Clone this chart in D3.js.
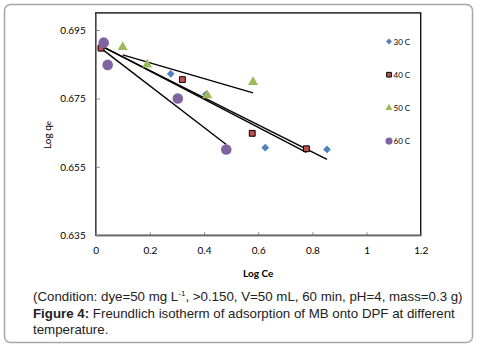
<!DOCTYPE html>
<html>
<head>
<meta charset="utf-8">
<script src="https://cdn.jsdelivr.net/npm/d3@7"></script>
<style>
  body { margin: 0; background: #fff; }
  svg { display: block; }
</style>
</head>
<body>
<div id="viz"></div>
<script>
// data (Log Ce, Log qe)
const seriesNames = ['30 C', '40 C', '50 C', '60 C'];
const logCe30 = [0.02, 0.277, 0.407, 0.626, 0.854];
const logQe30 = [0.6897, 0.6822, 0.6762, 0.6606, 0.6601];
const logCe40 = [0.0196, 0.32, 0.578, 0.778];
const logQe40 = [0.6897, 0.6805, 0.6648, 0.6603];
const logCe50 = [0.0997, 0.19, 0.412, 0.581];
const logQe50 = [0.690, 0.6849, 0.6759, 0.6798];
const logCe60 = [0.0295, 0.0443, 0.303, 0.482];
const logQe60 = [0.6913, 0.6848, 0.675, 0.6601];
const xTicks = [0, 0.2, 0.4, 0.6, 0.8, 1, 1.2];
const yTicks = [0.635, 0.655, 0.675, 0.695];

const width = 483;
const height = 349;
const plot = {left: 95.7, right: 420.7, top: 12.9, bottom: 235.3};

const colors = ['#4F81BD', '#C0504D', '#9BBB59', '#8064A2'];
const symbols = [d3.symbolDiamond2, d3.symbolSquare, d3.symbolTriangle, d3.symbolCircle];
const symSizes = [38, 34, 44, 88];

const allX = [logCe30, logCe40, logCe50, logCe60];
const allY = [logQe30, logQe40, logQe50, logQe60];
const series = seriesNames.map((name, i) => ({
  name: name,
  points: allX[i].map((v, j) => ({x: v, y: allY[i][j]}))
}));

const svg = d3.select('#viz')
  .append('svg')
    .attr('width', width)
    .attr('height', height);

// outer frame
svg.append('rect')
  .attr('x', 4.5)
  .attr('y', 4.5)
  .attr('width', 468)
  .attr('height', 338)
  .attr('rx', 6)
  .attr('fill', 'none')
  .attr('stroke', '#a6a6a6')
  .attr('stroke-width', 1.5);

const xScale = d3.scaleLinear()
  .domain([0, 1.2])
  .range([plot.left, plot.right]);

const yScale = d3.scaleLinear()
  .domain([0.635, 0.70])
  .range([plot.bottom, plot.top]);

// plot area border
svg.append('rect')
  .attr('x', plot.left)
  .attr('y', plot.top)
  .attr('width', plot.right - plot.left)
  .attr('height', plot.bottom - plot.top)
  .attr('fill', 'none')
  .attr('stroke', '#000')
  .attr('stroke-width', 1.3);

// axes
const xAxis = svg.append('g')
  .attr('transform', `translate(0, ${plot.bottom})`)
  .call(d3.axisBottom(xScale).tickValues(xTicks).tickSizeInner(-3).tickSizeOuter(0).tickPadding(12)
    .tickFormat(d3.format('~g')));
const yAxis = svg.append('g')
  .attr('transform', `translate(${plot.left}, 0)`)
  .call(d3.axisLeft(yScale).tickValues(yTicks).tickSizeInner(-4).tickSizeOuter(0).tickPadding(10)
    .tickFormat(d3.format('.3f')));

[xAxis, yAxis].forEach(ax => {
  ax.select('.domain').attr('stroke', '#868686').attr('stroke-width', 1.3);
  ax.selectAll('.tick line').attr('stroke', '#868686');
  ax.selectAll('.tick text')
    .attr('fill', '#000')
    .style('font-family', 'Lato, "Open Sans", sans-serif')
    .style('font-size', '10px');
});

svg.append('text')
  .attr('x', (plot.left + plot.right) / 2)
  .attr('y', 277)
  .attr('text-anchor', 'middle')
  .style('font-family', 'Lato, "Open Sans", sans-serif')
  .style('font-size', '10px')
  .style('font-weight', 'bold')
  .text('Log Ce');

const yLab = svg.append('text')
  .attr('transform', 'translate(51, 135) rotate(-90)')
  .attr('text-anchor', 'middle')
  .style('font-family', 'Lato, "Open Sans", sans-serif')
  .style('font-size', '10px');
yLab.append('tspan').text('Log q');
yLab.append('tspan').style('font-size', '8px').text('e');

// linear trend lines (least squares over each series)
const trend = pts => {
  const mx = d3.mean(pts, p => p.x);
  const my = d3.mean(pts, p => p.y);
  const sxy = d3.sum(pts, p => (p.x - mx) * (p.y - my));
  const sxx = d3.sum(pts, p => (p.x - mx) * (p.x - mx));
  const slope = sxy / sxx;
  const [x0, x1] = d3.extent(pts, p => p.x);
  return [{x: x0, y: my + slope * (x0 - mx)}, {x: x1, y: my + slope * (x1 - mx)}];
};

const line = d3.line()
  .x(d => xScale(d.x))
  .y(d => yScale(d.y));

svg.append('g')
  .selectAll('path')
  .data(series)
  .join('path')
    .attr('d', d => line(trend(d.points)))
    .attr('fill', 'none')
    .attr('stroke', '#000')
    .attr('stroke-width', 1.4);

// markers
series.forEach((s, i) => {
  svg.append('g')
    .selectAll('path')
    .data(s.points)
    .join('path')
      .attr('transform', d => `translate(${xScale(d.x)}, ${yScale(d.y)})`)
      .attr('d', d3.symbol(symbols[i], symSizes[i]))
      .attr('fill', colors[i])
      .attr('stroke', i === 1 ? '#000' : 'none')
      .attr('stroke-width', 1);
});

// legend
const legend = svg.append('g');
seriesNames.forEach((name, i) => {
  const ly = 41.5 + i * 33.2;
  legend.append('path')
    .attr('transform', `translate(389, ${ly})`)
    .attr('d', d3.symbol(symbols[i], i === 3 ? 40 : 22))
    .attr('fill', colors[i])
    .attr('stroke', i === 1 ? '#000' : 'none');
  legend.append('text')
    .attr('x', 393.5)
    .attr('y', ly + 3)
    .style('font-family', 'Lato, "Open Sans", sans-serif')
    .style('font-size', '8px')
    .text(name);
});

// caption
const capFont = '"Liberation Sans", Arial, sans-serif';
const cap = svg.append('g')
  .style('font-family', capFont)
  .style('font-size', '13.3px')
  .attr('fill', '#222');
const l1 = cap.append('text').attr('x', 33).attr('y', 301);
l1.append('tspan').text('(Condition: dye=50 mg L');
l1.append('tspan').attr('dy', -5).style('font-size', '8px').text('-1');
l1.append('tspan').attr('dy', 5).text(', >0.150, V=50 mL, 60 min, pH=4, mass=0.3 g)');
const l2 = cap.append('text').attr('x', 33).attr('y', 318);
l2.append('tspan').style('font-weight', 'bold').text('Figure 4:');
l2.append('tspan').text(' Freundlich isotherm of adsorption of MB onto DPF at different');
cap.append('text').attr('x', 33).attr('y', 334).text('temperature.');
</script>
</body>
</html>
